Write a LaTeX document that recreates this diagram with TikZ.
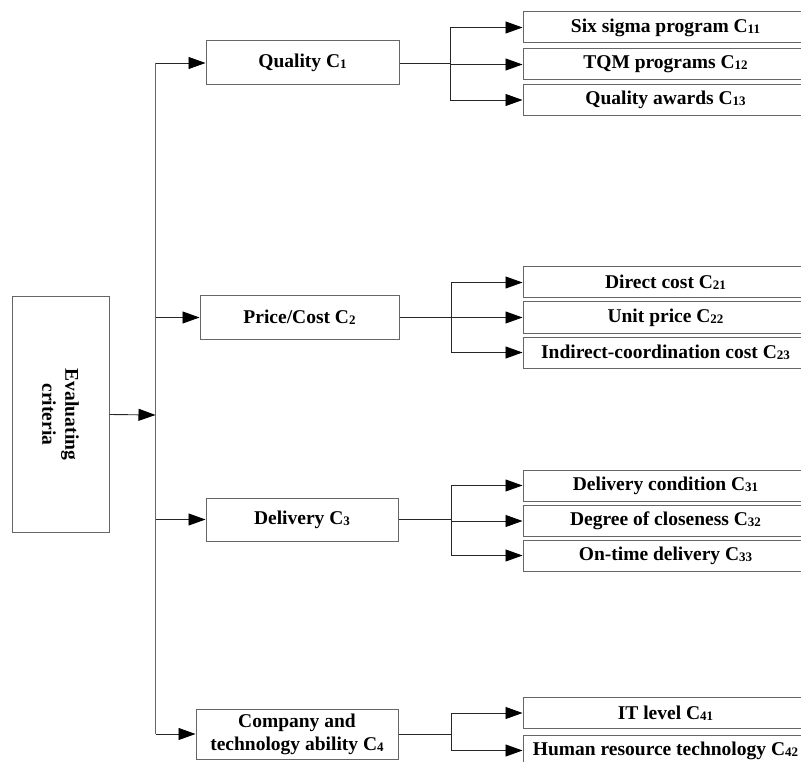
\documentclass[tikz,border=0pt]{standalone}
\usepackage{fontspec}
\setmainfont{Liberation Serif}
\usetikzlibrary{arrows.meta}
\newcommand{\csub}[1]{{\fontsize{13}{13}\selectfont\raisebox{-1pt}{#1}}}
\tikzset{
  box/.style={draw=black!60, line width=1pt, inner sep=0pt, align=center,
    font=\fontsize{19.5}{23}\selectfont\bfseries},
  subbox/.style={box, minimum width=285pt, minimum height=31pt},
  ln/.style={draw=black!85, line width=0.9pt},
  trunk/.style={draw=black!60, line width=1.3pt},
  arr/.style={-{Triangle[length=17pt,width=12pt,color=black]}}
}
\begin{document}
\begin{tikzpicture}[x=1pt,y=-1pt]
\useasboundingbox (0,0) rectangle (801,762);
\node[box,rotate=-90,minimum width=235pt,minimum height=97pt] (eval) at (60.5,414.5) {Evaluating\\criteria};
\node[box,minimum width=193pt,minimum height=44pt] (q) at (302.5,63) {Quality C\csub{1}};
\node[box,minimum width=199pt,minimum height=43pt] (p) at (299.5,317.5) {Price/Cost C\csub{2}};
\node[box,minimum width=192pt,minimum height=43pt] (d) at (302,519.5) {Delivery C\csub{3}};
\node[box,minimum width=202pt,minimum height=50pt] (c) at (297,734) {Company and\\technology ability C\csub{4}};

\node[subbox] (q11) at (665.5,27.5) {Six sigma program C\csub{11}};
\node[subbox] (q12) at (665.5,64.5) {TQM programs C\csub{12}};
\node[subbox] (q13) at (665.5,100) {Quality awards C\csub{13}};
\node[subbox] (p21) at (665.5,282.5) {Direct cost C\csub{21}};
\node[subbox] (p22) at (665.5,317.5) {Unit price C\csub{22}};
\node[subbox] (p23) at (665.5,352.5) {Indirect-coordination cost C\csub{23}};
\node[subbox] (d31) at (665.5,485.5) {Delivery condition C\csub{31}};
\node[subbox] (d32) at (665.5,521) {Degree of closeness C\csub{32}};
\node[subbox] (d33) at (665.5,555.5) {On-time delivery C\csub{33}};
\node[subbox] (c41) at (665.5,713) {IT level C\csub{41}};
\node[subbox] (c42) at (665.5,750.5) {Human resource technology C\csub{42}};

\coordinate (hub) at (155.5,415);
\coordinate (t1) at (155.5,63);
\coordinate (t2) at (155.5,317.5);
\coordinate (t3) at (155.5,519.5);
\coordinate (t4) at (155.5,734);
\coordinate (qb) at (450,63);
\coordinate (pb) at (451,317.5);
\coordinate (db) at (451,519.5);
\coordinate (cb) at (451,734);

\draw[trunk] (t1) -- (t4);
\draw[ln,arr] (eval.north) -- (hub);
\draw[ln,arr] (t1) -- (q);
\draw[ln,arr] (t2) -- (p);
\draw[ln,arr] (t3) -- (d);
\draw[ln,arr] (t4) -- (c);

\draw[ln] (q) -- (qb);
\draw[ln,arr] (qb) |- (q11);
\draw[ln,arr] (qb) |- (q12);
\draw[ln,arr] (qb) |- (q13);
\draw[ln] (p) -- (pb);
\draw[ln,arr] (pb) |- (p21);
\draw[ln,arr] (pb) |- (p22);
\draw[ln,arr] (pb) |- (p23);
\draw[ln] (d) -- (db);
\draw[ln,arr] (db) |- (d31);
\draw[ln,arr] (db) |- (d32);
\draw[ln,arr] (db) |- (d33);
\draw[ln] (c) -- (cb);
\draw[ln,arr] (cb) |- (c41);
\draw[ln,arr] (cb) |- (c42);
\end{tikzpicture}
\end{document}
